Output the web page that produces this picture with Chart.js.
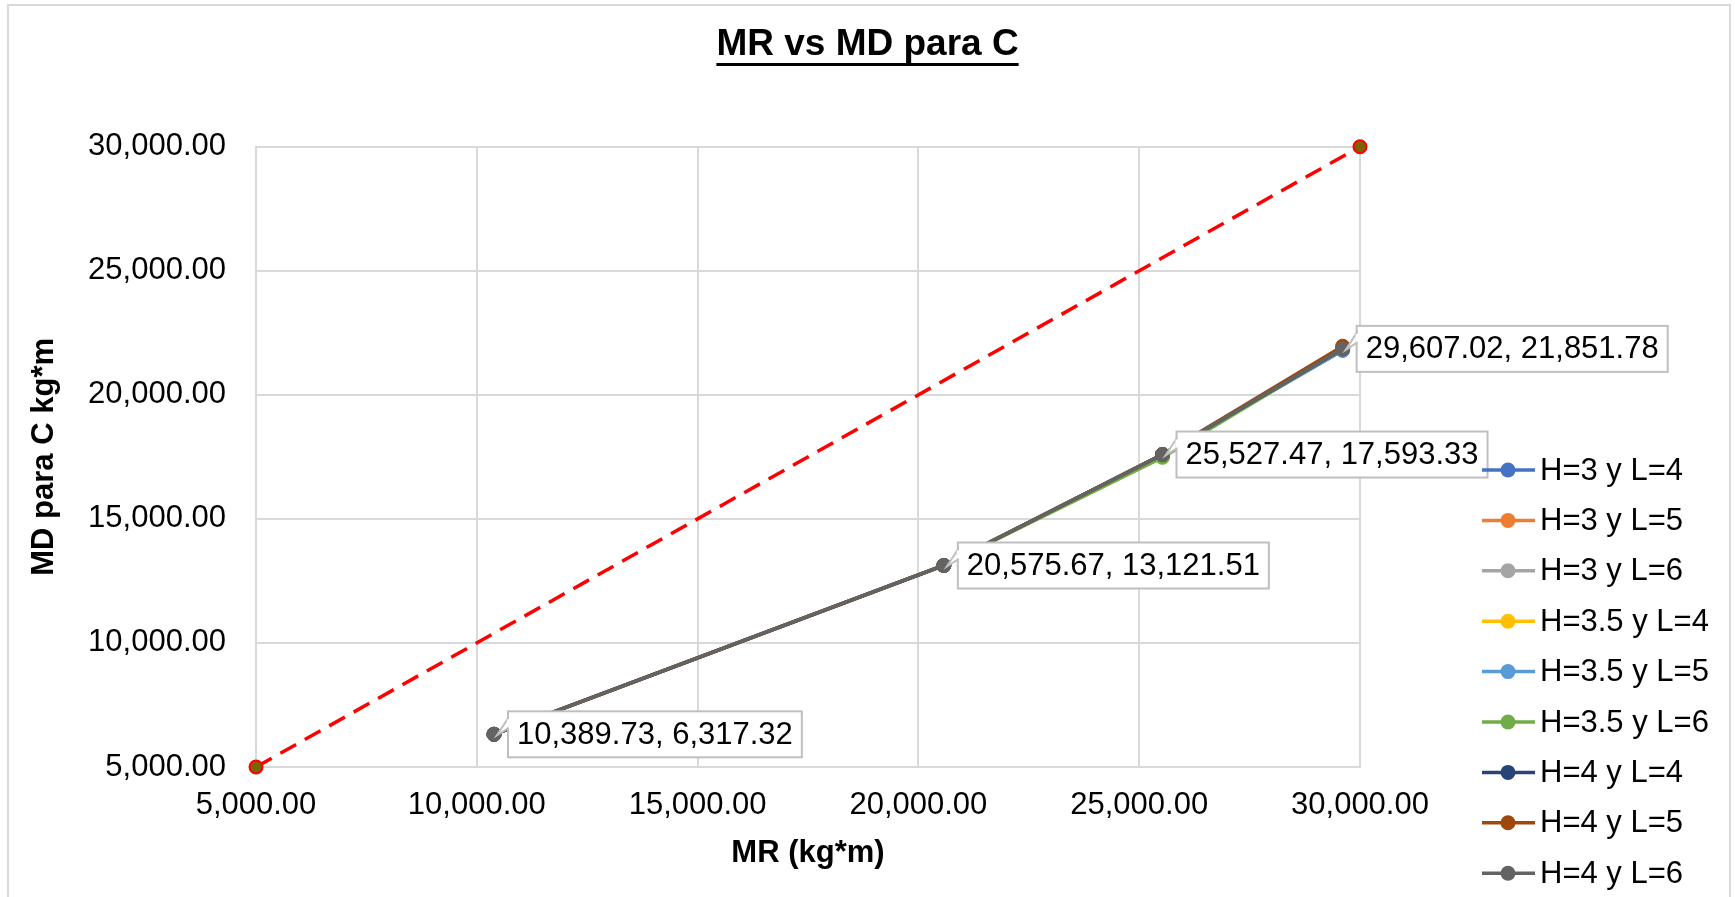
<!DOCTYPE html>
<html>
<head>
<meta charset="utf-8">
<script src="https://cdn.jsdelivr.net/npm/chart.js@4.4.0/dist/chart.umd.min.js"></script>
<style>
    body { margin: 0; background: #fff; }
    #wrap { width: 1735px; height: 897px; }
</style>
</head>
<body>
<div id="wrap"><canvas id="myChart" width="1735" height="897"></canvas></div>
<script>
// MR (x) shared by every series
const MR = [10389.73, 20575.67, 25527.47, 29607.02];

const SERIES_LABELS = ['H=3 y L=4', 'H=3 y L=5', 'H=3 y L=6', 'H=3.5 y L=4', 'H=3.5 y L=5',
    'H=3.5 y L=6', 'H=4 y L=4', 'H=4 y L=5', 'H=4 y L=6'];

// MD para C (y), one array per series
const MD_H3_L4 = [6317.32, 13121.51, 17593.33, 21790.00];
const MD_H3_L5 = [6317.32, 13121.51, 17593.33, 21851.78];
const MD_H3_L6 = [6317.32, 13121.51, 17593.33, 21851.78];
const MD_H35_L4 = [6317.32, 13121.51, 17593.33, 21851.78];
const MD_H35_L5 = [6317.32, 13121.51, 17593.33, 21800.00];
const MD_H35_L6 = [6317.32, 13121.51, 17480.00, 21851.78];
const MD_H4_L4 = [6317.32, 13121.51, 17593.33, 21851.78];
const MD_H4_L5 = [6317.32, 13121.51, 17593.33, 21960.00];
const MD_H4_L6 = [6317.32, 13121.51, 17593.33, 21851.78];

// 1:1 reference line
const REF_X = [5000, 30000];
const REF_Y = [5000, 30000];

const AXIS_MIN = 5000, AXIS_MAX = 30000, AXIS_STEP = 5000;

const COLORS = ['#4472C4', '#ED7D31', '#A5A5A5', '#FFC000', '#5B9BD5', '#70AD47', '#264478', '#9E480E', '#636363'];
const SERIES_MD = [MD_H3_L4, MD_H3_L5, MD_H3_L6, MD_H35_L4, MD_H35_L5, MD_H35_L6, MD_H4_L4, MD_H4_L5, MD_H4_L6];

const FONT = '"Liberation Sans", Arial, sans-serif';
const fmt = v => v.toLocaleString('en-US', { minimumFractionDigits: 2, maximumFractionDigits: 2 });

const datasets = SERIES_MD.map((md, i) => ({
    label: SERIES_LABELS[i],
    data: MR.map((x, j) => ({ x: x, y: md[j] })),
    borderColor: COLORS[i],
    backgroundColor: COLORS[i],
    borderWidth: 3.5,
    pointRadius: 7,
    pointBorderWidth: 1,
    showLine: true,
    clip: false,
    order: SERIES_MD.length - i,   // last series on top, like Excel
    inLegend: true,
    dataLabels: i === SERIES_MD.length - 1
}));

datasets.push({
    label: 'ref',
    data: REF_X.map((x, j) => ({ x: x, y: REF_Y[j] })),
    borderColor: '#FF0000',
    backgroundColor: '#806000',
    borderWidth: 3.5,
    borderDash: [18, 10],
    pointRadius: 6.5,
    pointBorderColor: '#FF0000',
    pointBorderWidth: 2,
    showLine: true,
    clip: false,
    order: 100
});

// white background + outer chart border
const frame = {
    id: 'frame',
    beforeDraw(c) {
        const ctx = c.ctx;
        ctx.save();
        ctx.fillStyle = '#fff';
        ctx.fillRect(0, 0, c.width, c.height);
        ctx.strokeStyle = '#d9d9d9';
        ctx.lineWidth = 2;
        ctx.strokeRect(8, 5, 1722, 900);
        ctx.restore();
    },
    afterDraw(c) {
        // underline the title
        const ctx = c.ctx;
        const t = c.options.plugins.title;
        ctx.save();
        ctx.font = 'bold 37px ' + FONT;
        const w = ctx.measureText(t.text).width;
        const cx = c.width / 2;
        ctx.fillStyle = '#000';
        ctx.fillRect(cx - w / 2, 63, w, 3);
        ctx.restore();
    }
};

// callout labels on the top series
const callouts = {
    id: 'callouts',
    afterDatasetsDraw(c) {
        const ctx = c.ctx;
        ctx.save();
        ctx.font = '31px ' + FONT;
        c.data.datasets.forEach((ds, di) => {
            if (!ds.dataLabels) return;
            const meta = c.getDatasetMeta(di);
            meta.data.forEach((pt, j) => {
                const text = fmt(ds.data[j].x) + ', ' + fmt(ds.data[j].y);
                const w = ctx.measureText(text).width + 18;
                const h = 46;
                const bx = pt.x + 14, by = pt.y - h / 2;
                ctx.fillStyle = '#fff';
                ctx.strokeStyle = '#bfbfbf';
                ctx.lineWidth = 2;
                ctx.fillRect(bx, by, w, h);
                ctx.strokeRect(bx, by, w, h);
                // tail
                ctx.beginPath();
                ctx.moveTo(bx, by + 7);
                ctx.lineTo(pt.x + 3, pt.y + 1);
                ctx.lineTo(bx, by + 17);
                ctx.closePath();
                ctx.fill();
                ctx.stroke();
                ctx.fillRect(bx - 1, by + 8, 3, 8);
                ctx.fillStyle = '#000';
                ctx.textAlign = 'left';
                ctx.textBaseline = 'middle';
                ctx.fillText(text, bx + 9, pt.y + 1);
            });
        });
        ctx.restore();
    }
};

// Excel style legend on the right: line + marker + text
const sideLegend = {
    id: 'sideLegend',
    afterDraw(c) {
        const ctx = c.ctx;
        ctx.save();
        ctx.font = '31px ' + FONT;
        ctx.textBaseline = 'middle';
        let k = 0;
        c.data.datasets.forEach(ds => {
            if (!ds.inLegend) return;
            const y = 470 + k * 50.4;
            ctx.strokeStyle = ds.borderColor;
            ctx.lineWidth = 3.5;
            ctx.beginPath();
            ctx.moveTo(1482, y);
            ctx.lineTo(1535, y);
            ctx.stroke();
            ctx.fillStyle = ds.backgroundColor;
            ctx.beginPath();
            ctx.arc(1508, y, 7.5, 0, Math.PI * 2);
            ctx.fill();
            ctx.fillStyle = '#000';
            ctx.fillText(ds.label, 1540, y + 1);
            k++;
        });
        ctx.restore();
    }
};

const tickFont = { family: FONT, size: 31 };
const titleFont = { family: FONT, size: 31, weight: 'bold' };

new Chart(document.getElementById('myChart'), {
    type: 'scatter',
    data: { datasets: datasets },
    options: {
        responsive: false,
        animation: false,
        layout: { padding: 0 },
        plugins: {
            legend: { display: false },
            tooltip: { enabled: false },
            title: {
                display: true,
                text: 'MR vs MD para C',
                color: '#000',
                font: { family: FONT, size: 37, weight: 'bold' },
                padding: { top: 23, bottom: 79.3 }
            }
        },
        scales: {
            x: {
                type: 'linear',
                min: AXIS_MIN, max: AXIS_MAX,
                afterFit: s => { s.height = 130; },
                ticks: { stepSize: AXIS_STEP, color: '#000', font: tickFont, padding: 20, maxRotation: 0, callback: v => fmt(v) },
                grid: { color: '#d9d9d9', lineWidth: 2, drawTicks: false },
                border: { color: '#d9d9d9', width: 2 },
                title: { display: true, text: 'MR (kg*m)', color: '#000', font: titleFont, padding: { bottom: 25 } }
            },
            y: {
                type: 'linear',
                min: AXIS_MIN, max: AXIS_MAX,
                afterFit: s => { s.width = 256; },
                ticks: { stepSize: AXIS_STEP, color: '#000', font: tickFont, padding: 30, callback: v => fmt(v) },
                grid: { color: '#d9d9d9', lineWidth: 2, drawTicks: false },
                border: { color: '#d9d9d9', width: 2 },
                title: { display: true, text: 'MD para C kg*m', color: '#000', font: titleFont, padding: { top: 26 } }
            },
            // empty right-hand axis that only reserves room for the legend
            legendSpace: {
                type: 'linear',
                position: 'right',
                afterFit: s => { s.width = 375; },
                ticks: { display: false },
                grid: { display: false },
                border: { display: false }
            }
        }
    },
    plugins: [frame, callouts, sideLegend]
});
</script>
</body>
</html>
